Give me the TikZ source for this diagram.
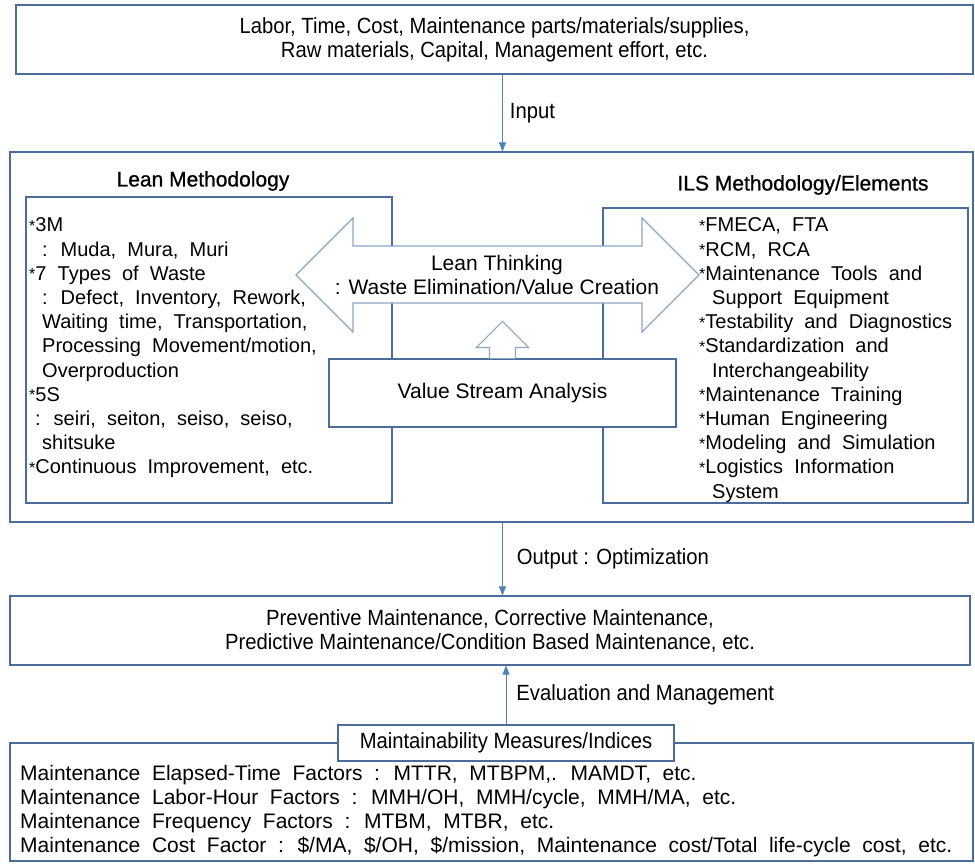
\documentclass[tikz,border=0pt]{standalone}
\usepackage{fontspec}
\setmainfont{Liberation Sans}
\newfontfamily\narrowfont[FakeStretch=0.92]{Liberation Sans}
\newfontfamily\listfont[WordSpace=1.6]{Liberation Sans}
\newfontfamily\measfont[WordSpace=2.0]{Liberation Sans}
\newfontfamily\titlefont[FakeBold=0.8]{Liberation Sans}
\usepackage{xcolor}
\definecolor{frameBlue}{HTML}{4A6D9C}
\definecolor{arrowBlue}{HTML}{4F81BD}
\definecolor{shapeBlue}{HTML}{8DA6C6}
\usetikzlibrary{positioning,calc,arrows.meta}
\newcommand{\bul}{\raisebox{0.5pt}{\fontsize{16}{16}\selectfont *}}
\tikzset{%
  frameBox/.style={%
    rectangle,
    draw=frameBlue,
    fill=white,
    line width=1.1pt,
    inner sep=0pt
  },
  flowBox/.style={%
    frameBox,
    align=center,
    font=\narrowfont\fontsize{22}{24}\selectfont
  },
  centerText/.style={%
    align=center,
    inner sep=0pt,
    font=\fontsize{21}{24}\selectfont
  },
  titleText/.style={%
    inner sep=0pt,
    font=\titlefont\fontsize{21}{24}\selectfont
  },
  listText/.style={%
    anchor=west,
    align=left,
    inner sep=0pt,
    font=\listfont\fontsize{20}{24.2}\selectfont
  },
  arrowLine/.style={%
    -{Triangle[length=9pt,width=7pt]},
    line width=0.8pt,
    color=arrowBlue
  },
  arrowLabel/.style={%
    right,
    inner sep=0pt,
    text=black,
    font=\narrowfont\fontsize{22}{24}\selectfont
  },
  bigArrow/.style={%
    draw=shapeBlue,
    fill=white,
    line width=1.1pt,
    line join=miter
  }
}
\begin{document}
\begin{tikzpicture}[x=1pt, y=-1pt]
\useasboundingbox (0,0) rectangle (975,863);

% resources going in
\node[flowBox, minimum width=957pt, minimum height=69pt] (inputs) at (494.5,39.5)
  {Labor, Time, Cost, Maintenance parts/materials/supplies,\\Raw materials, Capital, Management effort, etc.};

% the two methodologies
\node[frameBox, minimum width=963pt, minimum height=370pt] (methods) at (491.5,337) {};
\node[frameBox, minimum width=366pt, minimum height=306pt] (lean) at (209,350) {};
\node[frameBox, minimum width=365pt, minimum height=295pt] (ils) at (785.5,355.5) {};
\node[titleText] (leanTitle) at (203,181) {Lean Methodology};
\node[titleText] (ilsTitle) at (803,185) {ILS Methodology/Elements};

\node[listText] (leanList) at (29,348) {%
  \bul3M\\
  \hspace{13pt}: Muda, Mura, Muri\\
  \bul7 Types of Waste\\
  \hspace{13pt}: Defect, Inventory, Rework,\\
  \hspace{13pt}Waiting time, Transportation,\\
  \hspace{13pt}Processing Movement/motion,\\
  \hspace{13pt}Overproduction\\
  \bul5S\\
  \hspace{6pt}: seiri, seiton, seiso, seiso,\\
  \hspace{13pt}shitsuke\\
  \bul Continuous Improvement, etc.};

\node[listText] (ilsList) at (699,360) {%
  \bul FMECA, FTA\\
  \bul RCM, RCA\\
  \bul Maintenance Tools and\\
  \hspace{13pt}Support Equipment\\
  \bul Testability and Diagnostics\\
  \bul Standardization and\\
  \hspace{13pt}Interchangeability\\
  \bul Maintenance Training\\
  \bul Human Engineering\\
  \bul Modeling and Simulation\\
  \bul Logistics Information\\
  \hspace{13pt}System};

% lean thinking double arrow
\draw[bigArrow] (296,275) -- (353,218) -- (353,246) -- (642,246) -- (642,218)
  -- (699,275) -- (642,332) -- (642,303) -- (353,303) -- (353,332) -- cycle;
\node[centerText] (thinking) at (497,275) {Lean Thinking\\: Waste Elimination/Value Creation};

\node[flowBox, font=\fontsize{21}{24}\selectfont, minimum width=347pt, minimum height=68pt] (vsa) at (502.5,393) {Value Stream Analysis};
\draw[bigArrow] ([xshift=-13pt]vsa.north) -- ++(0,-11) -- ++(-13,0) -- ++(26,-26)
  -- ++(26,26) -- ++(-13,0) -- ++(0,11);

% maintenance results
\node[flowBox, minimum width=960pt, minimum height=69pt] (maint) at (490,630.5)
  {Preventive Maintenance, Corrective Maintenance,\\Predictive Maintenance/Condition Based Maintenance, etc.};

% measures
\node[frameBox, minimum width=963pt, minimum height=118pt] (measures) at (491.5,802) {};
\node[flowBox, minimum width=336pt, minimum height=36pt] (measTitle) at (506,743) {Maintainability Measures/Indices};
\node[listText, font=\measfont\fontsize{21}{24}\selectfont] (measList) at (20,811) {%
  Maintenance Elapsed-Time Factors : MTTR, MTBPM,. MAMDT, etc.\\
  Maintenance Labor-Hour Factors : MMH/OH, MMH/cycle, MMH/MA, etc.\\
  Maintenance Frequency Factors : MTBM, MTBR, etc.\\
  Maintenance Cost Factor : \$/MA, \$/OH, \$/mission, Maintenance cost/Total life-cycle cost, etc.};

% connectors
\draw[arrowLine] (inputs.south -| vsa.north) -- node[arrowLabel, right=7pt]{Input} (methods.north -| vsa.north);
\draw[arrowLine] (methods.south -| vsa.north) -- node[arrowLabel, right=14pt]{Output : Optimization} (maint.north -| vsa.north);
\draw[arrowLine] (measTitle.north) -- node[arrowLabel, right=10pt]{Evaluation and Management} (maint.south -| measTitle.north);
\end{tikzpicture}
\end{document}
